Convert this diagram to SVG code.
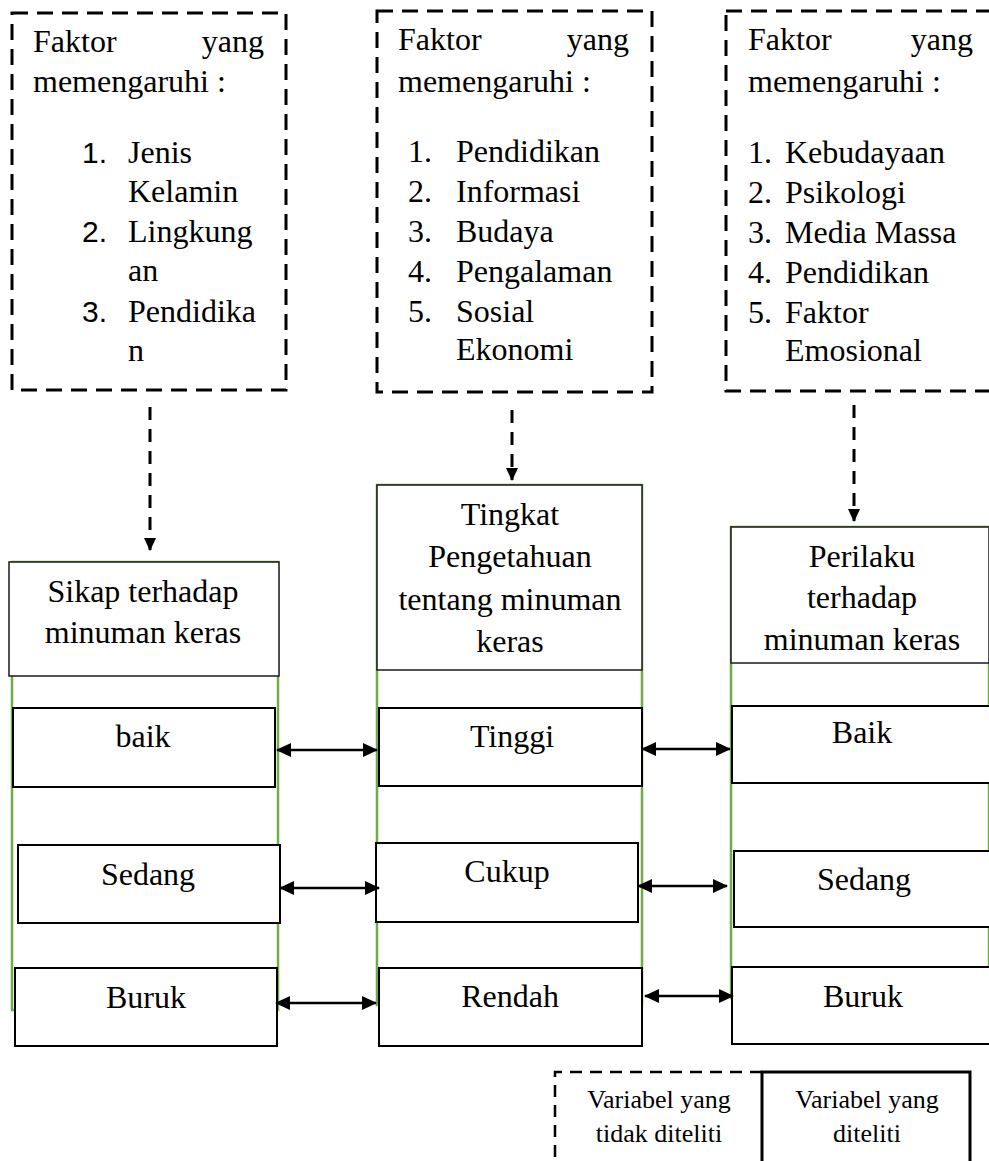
<svg xmlns="http://www.w3.org/2000/svg" width="989" height="1161" viewBox="0 0 989 1161">
<style>
.t{font-family:"Liberation Serif","Times New Roman",serif;font-size:32px;fill:#000}
.s{font-family:"Liberation Sans",Arial,sans-serif;font-size:30px;fill:#000}
.l{font-family:"Liberation Serif","Times New Roman",serif;font-size:26px;fill:#000}
.c{text-anchor:middle}
.e{text-anchor:end}
.dbox{fill:#fff;stroke:#000;stroke-width:3;stroke-dasharray:16 9}
.col{fill:#fff;stroke:#70AD47;stroke-width:2.5}
.head{fill:#fff;stroke:#1a1a1a;stroke-width:1.5}
.item{fill:#fff;stroke:#000;stroke-width:2}
.dl{fill:none;stroke:#000;stroke-width:3;stroke-dasharray:13 9}
.al{fill:none;stroke:#000;stroke-width:2.5}
</style>
<defs>
<marker id="ah" markerUnits="userSpaceOnUse" markerWidth="16" markerHeight="14" refX="14" refY="7" orient="auto-start-reverse" viewBox="0 0 16 14">
<path d="M0,0 L15,7 L0,14 Z" fill="#000"/>
</marker>
<marker id="dh" markerUnits="userSpaceOnUse" markerWidth="14" markerHeight="16" refX="14" refY="7" orient="auto" viewBox="0 0 16 14">
<path d="M0,0 L15,7 L0,14 Z" fill="#000"/>
</marker>
</defs>

<g id="faktor-sikap">
<rect class="dbox" x="12" y="13" width="274" height="377"/>
<text class="t" x="33" y="52">Faktor</text>
<text class="t e" x="264" y="52">yang</text>
<text class="t" x="33" y="92">memengaruhi :</text>
<text class="s" x="82" y="163">1.</text>
<text class="t" x="128" y="163">Jenis</text>
<text class="t" x="128" y="202">Kelamin</text>
<text class="s" x="82" y="242">2.</text>
<text class="t" x="128" y="242">Lingkung</text>
<text class="t" x="128" y="281">an</text>
<text class="s" x="82" y="322">3.</text>
<text class="t" x="128" y="322">Pendidika</text>
<text class="t" x="128" y="361">n</text>
</g>

<g id="faktor-pengetahuan">
<rect class="dbox" x="377" y="11" width="275" height="381"/>
<text class="t" x="398" y="50">Faktor</text>
<text class="t e" x="629" y="50">yang</text>
<text class="t" x="398" y="92">memengaruhi :</text>
<text class="t" x="408" y="162">1.</text>
<text class="t" x="456" y="162">Pendidikan</text>
<text class="t" x="408" y="202">2.</text>
<text class="t" x="456" y="202">Informasi</text>
<text class="t" x="408" y="242">3.</text>
<text class="t" x="456" y="242">Budaya</text>
<text class="t" x="408" y="282">4.</text>
<text class="t" x="456" y="282">Pengalaman</text>
<text class="t" x="408" y="322">5.</text>
<text class="t" x="456" y="322">Sosial</text>
<text class="t" x="456" y="360">Ekonomi</text>
</g>

<g id="faktor-perilaku">
<rect class="dbox" x="726" y="11" width="280" height="380"/>
<text class="t" x="748" y="50">Faktor</text>
<text class="t e" x="973" y="50">yang</text>
<text class="t" x="748" y="92">memengaruhi :</text>
<text class="t" x="748" y="163">1.</text>
<text class="t" x="785" y="163">Kebudayaan</text>
<text class="t" x="748" y="203">2.</text>
<text class="t" x="785" y="203">Psikologi</text>
<text class="t" x="748" y="243">3.</text>
<text class="t" x="785" y="243">Media Massa</text>
<text class="t" x="748" y="283">4.</text>
<text class="t" x="785" y="283">Pendidikan</text>
<text class="t" x="748" y="323">5.</text>
<text class="t" x="785" y="323">Faktor</text>
<text class="t" x="785" y="361">Emosional</text>
</g>

<g id="sikap">
<rect class="col" x="12" y="562" width="266" height="448"/>
<rect class="head" x="9" y="562" width="270" height="114"/>
<text class="t c" x="143" y="602">Sikap terhadap</text>
<text class="t c" x="143" y="643">minuman keras</text>
</g>
<g id="sikap-baik"><rect class="item" x="13" y="708" width="262" height="79"/><text class="t c" x="143" y="747">baik</text></g>
<g id="sikap-sedang"><rect class="item" x="18" y="845" width="262" height="78"/><text class="t c" x="148" y="885">Sedang</text></g>
<g id="sikap-buruk"><rect class="item" x="15" y="968" width="262" height="78"/><text class="t c" x="146" y="1008">Buruk</text></g>

<g id="pengetahuan">
<rect class="col" x="377" y="485" width="265" height="520"/>
<rect class="head" x="377" y="485" width="265" height="185"/>
<text class="t c" x="510" y="525">Tingkat</text>
<text class="t c" x="510" y="567">Pengetahuan</text>
<text class="t c" x="510" y="610">tentang minuman</text>
<text class="t c" x="510" y="652">keras</text>
</g>
<g id="pengetahuan-tinggi"><rect class="item" x="379" y="708" width="263" height="78"/><text class="t c" x="512" y="747">Tinggi</text></g>
<g id="pengetahuan-cukup"><rect class="item" x="376" y="843" width="262" height="79"/><text class="t c" x="507" y="882">Cukup</text></g>
<g id="pengetahuan-rendah"><rect class="item" x="379" y="968" width="263" height="78"/><text class="t c" x="510" y="1007">Rendah</text></g>

<g id="perilaku">
<rect class="col" x="731" y="527" width="258" height="471"/>
<rect class="head" x="731" y="527" width="258" height="136"/>
<text class="t c" x="862" y="567">Perilaku</text>
<text class="t c" x="862" y="608">terhadap</text>
<text class="t c" x="862" y="650">minuman keras</text>
</g>
<g id="perilaku-baik"><rect class="item" x="732" y="706" width="258" height="77"/><text class="t c" x="862" y="743">Baik</text></g>
<g id="perilaku-sedang"><rect class="item" x="734" y="851" width="256" height="76"/><text class="t c" x="864" y="890">Sedang</text></g>
<g id="perilaku-buruk"><rect class="item" x="732" y="967" width="258" height="77"/><text class="t c" x="863" y="1007">Buruk</text></g>

<g id="connectors">
<line class="dl" x1="150" y1="407" x2="150" y2="550" marker-end="url(#dh)"/>
<line class="dl" x1="512" y1="410" x2="512" y2="480" marker-end="url(#dh)"/>
<line class="dl" x1="854" y1="405" x2="854" y2="521" marker-end="url(#dh)"/>
<line class="al" x1="277" y1="750" x2="377" y2="750" marker-start="url(#ah)" marker-end="url(#ah)"/>
<line class="al" x1="280" y1="888" x2="379" y2="888" marker-start="url(#ah)" marker-end="url(#ah)"/>
<line class="al" x1="276" y1="1003" x2="376" y2="1003" marker-start="url(#ah)" marker-end="url(#ah)"/>
<line class="al" x1="642" y1="749" x2="730" y2="749" marker-start="url(#ah)" marker-end="url(#ah)"/>
<line class="al" x1="638" y1="886" x2="727" y2="886" marker-start="url(#ah)" marker-end="url(#ah)"/>
<line class="al" x1="645" y1="996" x2="733" y2="996" marker-start="url(#ah)" marker-end="url(#ah)"/>
</g>

<g id="legend-tidak">
<path d="M762,1072 L555,1072 L555,1170" fill="none" stroke="#000" stroke-width="2.5" stroke-dasharray="12 8"/>
<text class="l c" x="659" y="1108">Variabel yang</text>
<text class="l c" x="659" y="1142">tidak diteliti</text>
</g>
<g id="legend-diteliti">
<path d="M762,1170 L762,1072 L970,1072 L970,1170" fill="none" stroke="#000" stroke-width="3"/>
<text class="l c" x="867" y="1108">Variabel yang</text>
<text class="l c" x="867" y="1142">diteliti</text>
</g>
</svg>
